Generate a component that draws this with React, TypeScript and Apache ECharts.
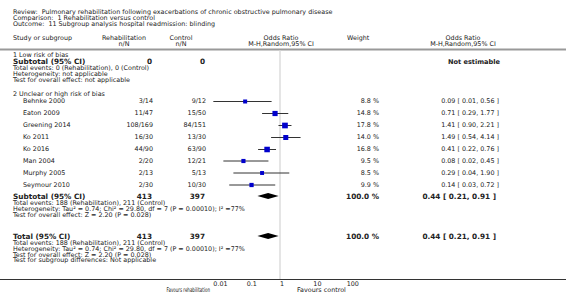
import React, { useEffect, useRef } from "react";
import * as echarts from "echarts";

const titleLines = [
  "Review:  Pulmonary rehabilitation following exacerbations of chronic obstructive pulmonary disease",
  "Comparison:  1 Rehabilitation versus control",
  "Outcome:  11 Subgroup analysis hospital readmission: blinding",
];

const studies = ["Behnke 2000", "Eaton 2009", "Greening 2014", "Ko 2011", "Ko 2016", "Man 2004", "Murphy 2005", "Seymour 2010"];
const rehabNN = ["3/14", "11/47", "108/169", "16/30", "44/90", "2/20", "2/13", "2/30"];
const controlNN = ["9/12", "15/50", "84/151", "13/30", "63/90", "12/21", "5/13", "10/30"];
const weights = [8.8, 14.8, 17.8, 14.0, 16.8, 9.5, 8.5, 9.9];
const oddsRatio = [0.09, 0.71, 1.41, 1.49, 0.41, 0.08, 0.29, 0.14];
const ciLow = [0.01, 0.29, 0.9, 0.54, 0.22, 0.02, 0.04, 0.03];
const ciHigh = [0.56, 1.77, 2.21, 4.14, 0.76, 0.45, 1.9, 0.72];

const pooled = { or: 0.44, lo: 0.21, hi: 0.91, rehabN: 413, controlN: 397, weight: "100.0 %" };

const axisTicks = [0.01, 0.1, 1, 10, 100];

const group1Notes = [
  "Total events: 0 (Rehabilitation), 0 (Control)",
  "Heterogeneity: not applicable",
  "Test for overall effect: not applicable",
];
const group2Notes = [
  "Total events: 188 (Rehabilitation), 211 (Control)",
  "Heterogeneity: Tau² = 0.74; Chi² = 29.80, df = 7 (P = 0.00010); I² =77%",
  "Test for overall effect: Z = 2.20 (P = 0.028)",
];
const totalNotes = [
  "Total events: 188 (Rehabilitation), 211 (Control)",
  "Heterogeneity: Tau² = 0.74; Chi² = 29.80, df = 7 (P = 0.00010); I² =77%",
  "Test for overall effect: Z = 2.20 (P = 0.028)",
  "Test for subgroup differences: Not applicable",
];

// layout (pixel rows)
const studyRowY = [101, 113, 125, 137, 149, 160.5, 172.5, 184.5];
const subtotalY = 196;
const totalY = 236;
const AXIS_Y = 279;

const FONT = '"DejaVu Sans", Verdana, sans-serif';
const TXT = "#222";
const NORMAL = 6.4;
const BOLD = 7.3;

function t(text: string, x: number, y: number, o: { align?: string; bold?: boolean; size?: number; scaleX?: number } = {}) {
  const size = o.size ?? (o.bold ? BOLD : NORMAL);
  return {
    type: "text",
    x,
    y,
    scaleX: o.scaleX ?? 1,
    silent: true,
    style: {
      text,
      fill: TXT,
      font: `${o.bold ? "bold " : ""}${size}px ${FONT}`,
      textAlign: o.align ?? "left",
      align: o.align ?? "left",
      textVerticalAlign: "middle",
      verticalAlign: "middle",
    },
  };
}

export default function App() {
  const ref = useRef<HTMLDivElement>(null);
  useEffect(() => {
    document.body.style.margin = "0";
    const chart = echarts.init(ref.current!, null, { renderer: "svg" });

    const COL_REHAB = 153;
    const COL_CTRL = 206;
    const COL_W = 379;
    const COL_CI = 499;

    const g: any[] = [];
    g.push(t(titleLines[0], 13, 11.5));
    g.push(t(titleLines[1], 13, 17.5));
    g.push(t(titleLines[2], 13, 24));
    g.push(t("Study or subgroup", 13, 38));
    g.push(t("Rehabilitation", 124, 38, { align: "center" }));
    g.push(t("n/N", 124, 44, { align: "center" }));
    g.push(t("Control", 181, 38, { align: "center" }));
    g.push(t("n/N", 181, 44, { align: "center" }));
    g.push(t("Odds Ratio", 281, 38, { align: "center" }));
    g.push(t("M-H,Random,95% CI", 281, 44, { align: "center" }));
    g.push(t("Weight", 347, 38));
    g.push(t("Odds Ratio", 463, 38, { align: "center" }));
    g.push(t("M-H,Random,95% CI", 463, 44, { align: "center" }));

    g.push({ type: "rect", silent: true, shape: { x: 0, y: 48.5, width: 566, height: 2 }, style: { fill: "#999" } });
    g.push({ type: "line", silent: true, shape: { x1: 280, y1: 50.5, x2: 280, y2: AXIS_Y }, style: { stroke: "#ddd", lineWidth: 1.5 } });
    g.push({ type: "line", silent: true, shape: { x1: 0, y1: AXIS_Y + 0.5, x2: 566, y2: AXIS_Y + 0.5 }, style: { stroke: "#333", lineWidth: 1 } });

    // group 1
    g.push(t("1 Low risk of bias", 13, 55));
    g.push(t("Subtotal (95% CI)", 13, 61.5, { bold: true }));
    g.push(t("0", COL_REHAB - 1, 61.5, { bold: true, align: "right" }));
    g.push(t("0", COL_CTRL - 1, 61.5, { bold: true, align: "right" }));
    g.push(t("Not estimable", COL_CI + 1, 61.5, { bold: true, align: "right", size: 6.6 }));
    group1Notes.forEach((s, i) => g.push(t(s, 13, 68 + i * 6)));

    // group 2
    g.push(t("2 Unclear or high risk of bias", 13, 94));
    studies.forEach((s, i) => {
      const y = studyRowY[i];
      g.push(t(s, 23, y));
      g.push(t(rehabNN[i], COL_REHAB, y, { align: "right" }));
      g.push(t(controlNN[i], COL_CTRL, y, { align: "right" }));
      g.push(t(`${weights[i].toFixed(1)} %`, COL_W, y, { align: "right" }));
      g.push(t(`${oddsRatio[i].toFixed(2)} [ ${ciLow[i].toFixed(2)}, ${ciHigh[i].toFixed(2)} ]`, COL_CI, y, { align: "right" }));
    });
    const pooledCI = `${pooled.or.toFixed(2)} [ ${pooled.lo.toFixed(2)}, ${pooled.hi.toFixed(2)} ]`;
    const addPooled = (label: string, y: number, notes: string[]) => {
      g.push(t(label, 13, y, { bold: true }));
      g.push(t(String(pooled.rehabN), COL_REHAB - 1, y, { bold: true, align: "right" }));
      g.push(t(String(pooled.controlN), COL_CTRL - 1, y, { bold: true, align: "right" }));
      g.push(t(pooled.weight, COL_W, y, { bold: true, align: "right" }));
      g.push(t(pooledCI, COL_CI - 3, y, { bold: true, align: "right" }));
      notes.forEach((s, i) => g.push(t(s, 13, y + 7 + i * 5.8)));
    };
    addPooled("Subtotal (95% CI)", subtotalY, group2Notes);
    addPooled("Total (95% CI)", totalY, totalNotes);

    g.push(t("Favours rehabilitation", 210, 289.5, { align: "right", scaleX: 0.63 }));
    g.push(t("Favours control", 297, 289.5));

    const studyData = studies.map((_, i) => [oddsRatio[i], ciLow[i], ciHigh[i], studyRowY[i], weights[i]]);
    const diamondData = [
      [pooled.or, pooled.lo, pooled.hi, subtotalY],
      [pooled.or, pooled.lo, pooled.hi, totalY],
    ];

    chart.setOption({
      animation: false,
      grid: { left: 280 - 200 / 3, width: 400 / 3, top: 0, height: AXIS_Y },
      xAxis: {
        type: "log",
        logBase: 10,
        min: axisTicks[0],
        max: axisTicks[axisTicks.length - 1],
        axisLine: { show: false },
        splitLine: { show: false },
        axisTick: { show: true, inside: true, length: 3, lineStyle: { color: "#333", width: 1 } },
        axisLabel: {
          show: true,
          align: "left",
          margin: 2,
          fontSize: NORMAL,
          fontFamily: FONT,
          color: TXT,
          formatter: (v: number) => {
            const m = axisTicks.find((k) => Math.abs(Math.log10(k) - Math.log10(v)) < 1e-6);
            return m !== undefined ? String(m) : "";
          },
        },
      },
      yAxis: { type: "value", min: 0, max: AXIS_Y, inverse: true, show: false },
      graphic: { elements: g },
      series: [
        {
          type: "custom",
          clip: false,
          encode: { x: [0, 1, 2], y: 3 },
          data: studyData,
          renderItem: (_p: any, api: any) => {
            const y = api.value(3);
            const c = api.coord([api.value(0), y]);
            const l = api.coord([api.value(1), y]);
            const h = api.coord([api.value(2), y]);
            const s = 1.35 * Math.sqrt(api.value(4));
            return {
              type: "group",
              children: [
                { type: "line", shape: { x1: l[0], y1: c[1] + 0.5, x2: h[0], y2: c[1] + 0.5 }, style: { stroke: "#333", lineWidth: 1 } },
                { type: "rect", shape: { x: c[0] - s / 2, y: c[1] + 0.5 - s / 2, width: s, height: s }, style: { fill: "#0000cc" } },
              ],
            };
          },
        },
        {
          type: "custom",
          clip: false,
          encode: { x: [0, 1, 2], y: 3 },
          data: diamondData,
          renderItem: (_p: any, api: any) => {
            const y = api.value(3);
            const c = api.coord([api.value(0), y]);
            const l = api.coord([api.value(1), y]);
            const h = api.coord([api.value(2), y]);
            return {
              type: "polygon",
              shape: { points: [[l[0], c[1]], [c[0], c[1] - 3], [h[0], c[1]], [c[0], c[1] + 3]] },
              style: { fill: "#000" },
            };
          },
        },
      ],
    });
    return () => chart.dispose();
  }, []);
  return <div ref={ref} style={{ width: 566, height: 296, background: "#fff" }} />;
}
